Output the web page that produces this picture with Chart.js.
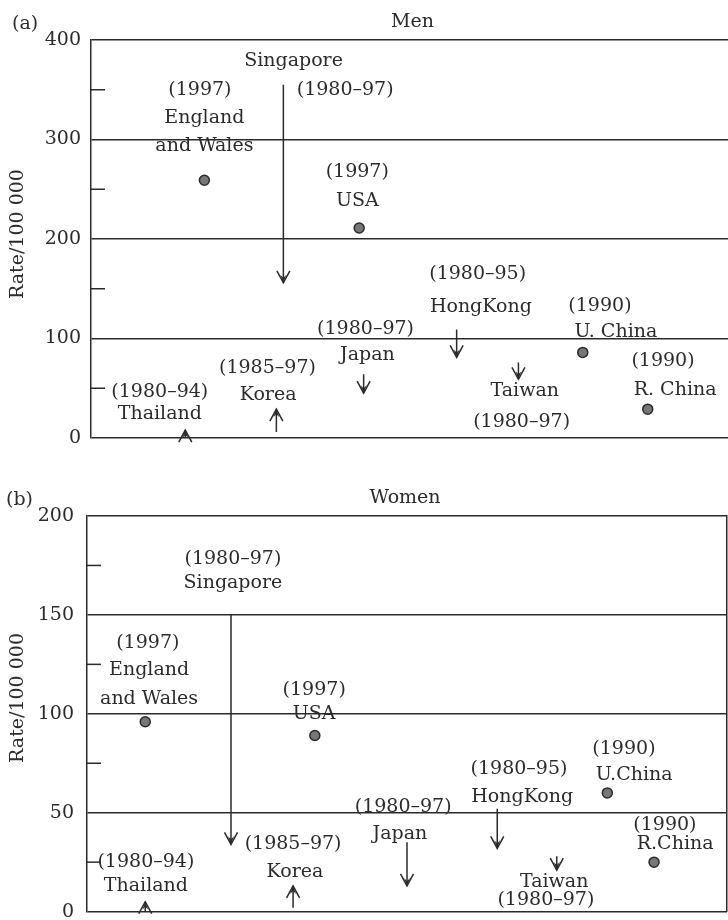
<!DOCTYPE html>
<html>
<head>
<meta charset="utf-8">
<title>Rate/100 000 - Men and Women</title>
<script src="https://cdn.jsdelivr.net/npm/chart.js@4.4.1/dist/chart.umd.min.js"></script>
<style>
    body { margin: 0; background: #fff; overflow: hidden; }
    #wrap { position: relative; width: 728px; height: 920px; }
    .panel { position: absolute; left: 0; width: 728px; }
    #pMen { top: 0; height: 460px; }
    #pWomen { top: 460px; height: 476px; }
</style>
</head>
<body>
<div id="wrap">
    <div class="panel" id="pMen"><canvas id="menChart"></canvas></div>
    <div class="panel" id="pWomen"><canvas id="womenChart"></canvas></div>
</div>
<script>
// countries, in the order they sit along the (unlabelled) horizontal axis
const menNames = ['Thailand', 'England\nand Wales', 'Korea', 'Singapore', 'USA', 'Japan', 'HongKong', 'Taiwan', 'U. China', 'R. China'];
const womenNames = ['Thailand', 'England\nand Wales', 'Korea', 'Singapore', 'USA', 'Japan', 'HongKong', 'Taiwan', 'U.China', 'R.China'];
const periods = ['(1980–94)', '(1997)', '(1985–97)', '(1980–97)', '(1997)', '(1980–97)', '(1980–95)', '(1980–97)', '(1990)', '(1990)'];

// rate per 100 000: start of period (null = single year) and end of period
const menStart = [0, null, 6, 355, null, 64, 109, 76, null, null];
const menEnd = [8, 259, 29, 156, 211, 45, 81, 59, 86, 29];
const womenStart = [0, null, 2, 150, null, 35, 52, 28, null, null];
const womenEnd = [5, 96, 13, 34, 89, 13, 32, 21, 60, 25];

// horizontal slot of each country (0-10 across the panel)
const menSlot = [1.48, 1.78, 2.91, 3.02, 4.21, 4.28, 5.74, 6.71, 7.72, 8.74];
const womenSlot = [0.91, 0.91, 3.22, 2.25, 3.56, 5.0, 6.41, 7.34, 8.13, 8.86];

// y-axis ticks
const menTicks = { max: 400, step: 50, major: 100 };
const womenTicks = { max: 200, step: 25, major: 50 };

// where the texts sit, [slot, rate]
const menNamePos = [[1.08, 24], [1.78, 322], [2.78, 43], [3.18, 379], [4.18, 238], [4.34, 83], [6.12, 132], [6.81, 47], [8.24, 106], [9.17, 48]];
const menPeriodPos = [[1.08, 46], [1.71, 350], [2.77, 70], [3.99, 350], [4.18, 267], [4.31, 109], [6.07, 165], [6.76, 16], [7.99, 133], [8.98, 77]];
const womenNamePos = [[0.92, 13], [0.97, 122], [3.25, 20], [2.28, 166], [3.55, 100], [4.89, 39], [6.80, 58], [7.30, 15], [8.55, 69], [9.19, 34]];
const womenPeriodPos = [[0.92, 25], [0.95, 136], [3.22, 34], [2.28, 178], [3.55, 112], [4.94, 53], [6.75, 72], [7.17, 6], [8.39, 82], [9.03, 44]];

const INK = '#2b2b2b';
const FONT = 'DejaVu Serif';

function buildDatasets(slot, start, end) {
    const sets = [];
    const dots = [];
    slot.forEach((x, i) => {
        if (start[i] === null) {
            dots.push({ x: x, y: end[i] });
        } else {
            sets.push({
                data: [{ x: x, y: start[i] }, { x: x, y: end[i] }],
                showLine: true,
                borderColor: INK,
                borderWidth: 1.5,
                pointRadius: 0,
                arrow: true
            });
        }
    });
    sets.push({
        data: dots,
        pointRadius: 5,
        pointHoverRadius: 5,
        backgroundColor: '#777',
        borderColor: '#2b2b2b',
        borderWidth: 1.5
    });
    return sets;
}

// draws minor stubs, arrowheads and all texts
const annotate = {
    id: 'annotate',
    afterDatasetsDraw(chart, args, opts) {
        const ctx = chart.ctx;
        const xs = chart.scales.x;
        const ys = chart.scales.y;
        const area = chart.chartArea;
        ctx.save();
        ctx.strokeStyle = INK;
        ctx.fillStyle = INK;
        ctx.lineWidth = 1.5;

        // short inner ticks between the labelled values
        ys.ticks.forEach(t => {
            if (t.value % opts.major !== 0) {
                const py = ys.getPixelForValue(t.value);
                ctx.beginPath();
                ctx.moveTo(area.left, py);
                ctx.lineTo(area.left + 14, py);
                ctx.stroke();
            }
        });

        // arrowheads at the end of each period
        chart.data.datasets.forEach((ds, i) => {
            if (!ds.arrow) return;
            const pts = chart.getDatasetMeta(i).data;
            const a = pts[0], b = pts[1];
            const d = b.y > a.y ? 1 : -1;
            ctx.beginPath();
            ctx.moveTo(b.x - 6.5, b.y - d * 12);
            ctx.lineTo(b.x, b.y);
            ctx.lineTo(b.x + 6.5, b.y - d * 12);
            ctx.stroke();
            ctx.beginPath();
            ctx.moveTo(b.x, b.y);
            ctx.lineTo(b.x - 3, b.y - d * 8);
            ctx.lineTo(b.x, b.y - d * 5);
            ctx.lineTo(b.x + 3, b.y - d * 8);
            ctx.closePath();
            ctx.fill();
        });

        // country names and periods
        ctx.font = '19px "' + FONT + '"';
        ctx.textAlign = 'center';
        ctx.textBaseline = 'middle';
        opts.names.forEach((name, i) => {
            const px = xs.getPixelForValue(opts.namePos[i][0]);
            const py = ys.getPixelForValue(opts.namePos[i][1]);
            name.split('\n').forEach((line, k) => ctx.fillText(line, px, py + k * 28.5));
            ctx.fillText(periods[i], xs.getPixelForValue(opts.periodPos[i][0]), ys.getPixelForValue(opts.periodPos[i][1]));
        });

        // panel letter, panel title and axis title
        ctx.fillText(opts.title, (area.left + area.right) / 2 + opts.titleShift, area.top - 18);
        ctx.textAlign = 'left';
        ctx.fillText(opts.letter, opts.letterX, area.top - 16);
        ctx.translate(18, ys.getPixelForValue(opts.axisTitleAt));
        ctx.rotate(-Math.PI / 2);
        ctx.textAlign = 'center';
        ctx.fillText('Rate/100 000', 0, 0);
        ctx.restore();
    }
};

function makeChart(id, cfg) {
    const scales = {
        x: { type: 'linear', min: 0, max: 10, display: false },
        y: {
            min: 0,
            max: cfg.ticks.max,
            afterFit: s => { s.width = cfg.axisLeft; },
            border: { display: true, color: INK, width: 1.5 },
            grid: {
                drawTicks: false,
                lineWidth: 1.5,
                color: c => (c.tick.value % cfg.ticks.major === 0 ? INK : 'rgba(0,0,0,0)')
            },
            ticks: {
                stepSize: cfg.ticks.step,
                padding: cfg.tickPad,
                color: INK,
                font: { family: FONT, size: 19 },
                callback: v => (v % cfg.ticks.major === 0 ? v : '')
            }
        }
    };
    if (cfg.rightBorder) {
        scales.yR = {
            position: 'right',
            afterFit: s => { s.width = 1; },
            border: { display: true, color: INK, width: 1.5 },
            grid: { display: true, drawOnChartArea: false, drawTicks: false },
            ticks: { display: false }
        };
    }
    return new Chart(document.getElementById(id), {
        type: 'scatter',
        data: { datasets: buildDatasets(cfg.slot, cfg.start, cfg.end) },
        options: {
            responsive: true,
            maintainAspectRatio: false,
            animation: false,
            devicePixelRatio: 1,
            layout: { autoPadding: false, padding: { top: cfg.padTop, bottom: cfg.padBottom, left: 0, right: 0 } },
            scales: scales,
            plugins: {
                legend: { display: false },
                tooltip: { enabled: false },
                annotate: {
                    major: cfg.ticks.major,
                    names: cfg.names,
                    namePos: cfg.namePos,
                    periodPos: cfg.periodPos,
                    title: cfg.title,
                    titleShift: cfg.titleShift,
                    letter: cfg.letter,
                    letterX: cfg.letterX,
                    axisTitleAt: cfg.axisTitleAt
                }
            }
        },
        plugins: [annotate]
    });
}

makeChart('menChart', {
    slot: menSlot, start: menStart, end: menEnd, ticks: menTicks,
    names: menNames, namePos: menNamePos, periodPos: menPeriodPos,
    title: 'Men', titleShift: 3, letter: '(a)', letterX: 12, axisTitleAt: 205,
    axisLeft: 91, tickPad: 10, padTop: 40, padBottom: 22, rightBorder: false
});

makeChart('womenChart', {
    slot: womenSlot, start: womenStart, end: womenEnd, ticks: womenTicks,
    names: womenNames, namePos: womenNamePos, periodPos: womenPeriodPos,
    title: 'Women', titleShift: -2, letter: '(b)', letterX: 6, axisTitleAt: 108,
    axisLeft: 87, tickPad: 13, padTop: 56, padBottom: 18, rightBorder: true
});
</script>
</body>
</html>
